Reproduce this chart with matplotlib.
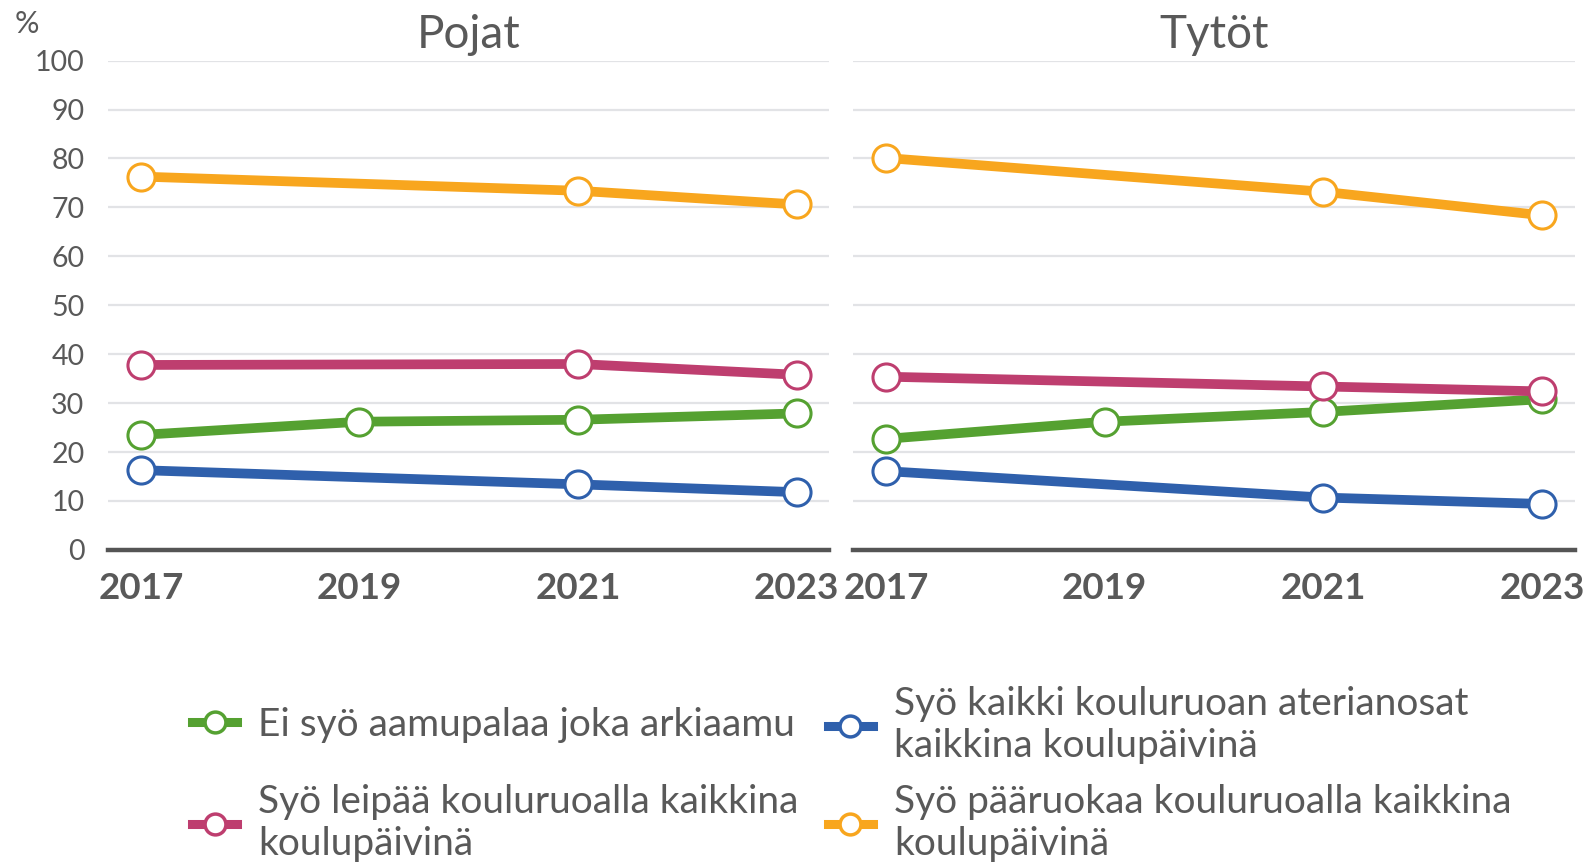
import matplotlib.pyplot as plt
from matplotlib.lines import Line2D

plt.rcParams["font.family"] = ["Lato", "DejaVu Sans"]

# Data
years = [2017, 2019, 2021, 2023]
years_3 = [2017, 2021, 2023]

boys_breakfast = [23.5, 26.2, 26.6, 27.9]
boys_bread = [37.8, 38.0, 35.8]
boys_all_parts = [16.3, 13.4, 11.8]
boys_main = [76.3, 73.4, 70.6]

girls_breakfast = [22.7, 26.2, 28.2, 30.8]
girls_bread = [35.4, 33.4, 32.4]
girls_all_parts = [16.1, 10.7, 9.4]
girls_main = [80.1, 73.2, 68.4]

titles = ["Pojat", "Tytöt"]
labels = [
    "Ei syö aamupalaa joka arkiaamu",
    "Syö leipää kouluruoalla kaikkina\nkoulupäivinä",
    "Syö kaikki kouluruoan aterianosat\nkaikkina koulupäivinä",
    "Syö pääruokaa kouluruoalla kaikkina\nkoulupäivinä",
]

GREEN = "#55a131"
PINK = "#be3e6f"
BLUE = "#2f60ac"
ORANGE = "#f8a61e"
TEXT = "#595959"

fig = plt.figure(figsize=(15.89, 8.66), dpi=100)
ax1 = fig.add_axes([0.068, 0.365, 0.454, 0.565])
ax2 = fig.add_axes([0.537, 0.365, 0.454, 0.565])

style = dict(lw=7, marker="o", ms=19.5, mfc="white", mew=2.2, clip_on=False, solid_capstyle="butt")

panels = [
    (ax1, boys_breakfast, boys_bread, boys_all_parts, boys_main),
    (ax2, girls_breakfast, girls_bread, girls_all_parts, girls_main),
]

for i, (ax, brk, bread, allp, main) in enumerate(panels):
    ax.plot(years_3, main, color=ORANGE, mec=ORANGE, zorder=3, **style)
    ax.plot(years, brk, color=GREEN, mec=GREEN, zorder=4, **style)
    ax.plot(years_3, bread, color=PINK, mec=PINK, zorder=5, **style)
    ax.plot(years_3, allp, color=BLUE, mec=BLUE, zorder=3, **style)

    ax.set_xlim(2016.7, 2023.3)
    ax.set_ylim(0, 100)
    ax.set_yticks(range(0, 101, 10))
    ax.set_xticks(years)
    ax.grid(axis="y", color="#e2e3e6", lw=1.6)
    ax.set_axisbelow(True)
    for s in ["top", "right", "left"]:
        ax.spines[s].set_visible(False)
    ax.spines["bottom"].set_color("#555555")
    ax.spines["bottom"].set_linewidth(3.2)
    ax.spines["bottom"].set_zorder(2)
    ax.tick_params(axis="x", length=0, pad=16, labelsize=26.5, labelcolor=TEXT)
    for t in ax.get_xticklabels():
        t.set_fontweight("bold")
    ax.tick_params(axis="y", length=0, pad=17, labelsize=20.5, labelcolor=TEXT)
    if i == 1:
        ax.tick_params(axis="y", labelleft=False)
    ax.set_title(titles[i], fontsize=33, color=TEXT, pad=9)

fig.text(0.009, 0.972, "%", fontsize=22, color=TEXT, ha="left", va="center")

# Legend
colors = [GREEN, PINK, BLUE, ORANGE]
anchors = [(0.121, 0.163), (0.121, 0.05), (0.521, 0.163), (0.521, 0.05)]
for lab, col, anc in zip(labels, colors, anchors):
    h = Line2D([], [], color=col, lw=6.5, marker="o", ms=15, mfc="white", mec=col, mew=2.5)
    leg = fig.legend(
        handles=[h], labels=[lab], loc="center left", bbox_to_anchor=anc,
        frameon=False, fontsize=28, labelcolor=TEXT, handlelength=1.15,
        handletextpad=0.55, borderpad=0, borderaxespad=0,
    )
    for t in leg.get_texts():
        t.set_linespacing(1.2)

plt.savefig("out.png", dpi=100)
